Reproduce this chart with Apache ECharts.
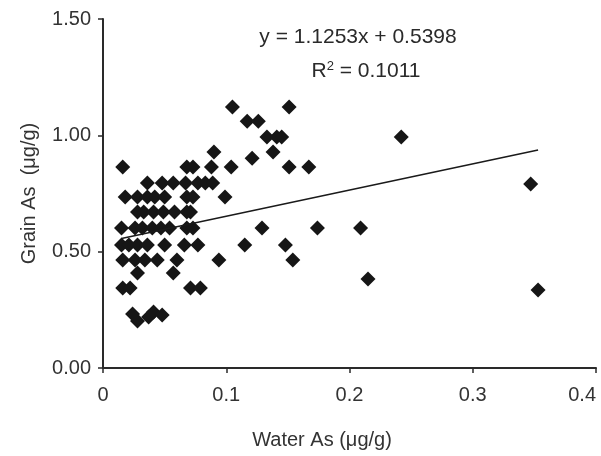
<!DOCTYPE html>
<html>
<head>
<meta charset="utf-8">
<style>
  html, body { margin: 0; padding: 0; background: #fff; }
  #chart { width: 601px; height: 456px; }
</style>
<script src="https://cdn.jsdelivr.net/npm/echarts@6/dist/echarts.min.js"></script>
</head>
<body>
<div id="chart"></div>
<script>
// Water arsenic (x) and grain arsenic (y) per sample, µg/g
const waterAs = [
  0.105, 0.151,
  0.117, 0.126,
  0.133, 0.141, 0.145, 0.242,
  0.090, 0.138,
  0.121,
  0.016, 0.068, 0.073, 0.088, 0.104, 0.151, 0.167,
  0.036, 0.048, 0.057, 0.067, 0.077, 0.083, 0.089, 0.347,
  0.018, 0.028, 0.036, 0.042, 0.050, 0.068, 0.073, 0.099,
  0.028, 0.033, 0.041, 0.049, 0.058, 0.068, 0.071,
  0.015, 0.026, 0.032, 0.040, 0.047, 0.054, 0.068, 0.073, 0.129, 0.174, 0.209,
  0.015, 0.021, 0.028, 0.036, 0.050, 0.066, 0.077, 0.115, 0.148,
  0.016, 0.026, 0.034, 0.044, 0.060, 0.094, 0.154,
  0.028, 0.057,
  0.215,
  0.016, 0.022, 0.071, 0.079, 0.353,
  0.024, 0.028, 0.037, 0.041, 0.048
];
const grainAs = [
  1.122, 1.122,
  1.061, 1.061,
  0.993, 0.993, 0.993, 0.993,
  0.928, 0.928,
  0.902,
  0.864, 0.864, 0.864, 0.864, 0.864, 0.864, 0.864,
  0.795, 0.795, 0.795, 0.795, 0.795, 0.795, 0.795, 0.791,
  0.735, 0.735, 0.735, 0.735, 0.735, 0.735, 0.735, 0.735,
  0.670, 0.670, 0.670, 0.670, 0.670, 0.670, 0.670,
  0.602, 0.602, 0.602, 0.602, 0.602, 0.602, 0.602, 0.602, 0.602, 0.602, 0.602,
  0.529, 0.529, 0.529, 0.529, 0.529, 0.529, 0.529, 0.529, 0.529,
  0.464, 0.464, 0.464, 0.464, 0.464, 0.464, 0.464,
  0.408, 0.408,
  0.382,
  0.344, 0.344, 0.344, 0.344, 0.335,
  0.232, 0.202, 0.219, 0.241, 0.228
];

// Linear trend fitted to the samples
const trendSlope = 1.1253;
const trendIntercept = 0.5398;
const trendR2 = 0.1011;

const xTicks = [0, 0.1, 0.2, 0.3, 0.4];
const yTicks = [0, 0.5, 1.0, 1.5];

const points = waterAs.map((x, i) => [x, grainAs[i]]);
const xMin = Math.min(...waterAs);
const xMax = Math.max(...waterAs);
const trend = [xMin, xMax].map(x => [x, trendSlope * x + trendIntercept]);

const font = 'Liberation Sans, Arial, sans-serif';
const chart = echarts.init(document.getElementById('chart'));
chart.setOption({
  animation: false,
  grid: { left: 103, right: 5, top: 19, bottom: 88, outerBoundsMode: 'none', containLabel: false },
  xAxis: {
    type: 'value',
    min: xTicks[0], max: xTicks[xTicks.length - 1], interval: 0.1,
    splitLine: { show: false },
    axisLine: { lineStyle: { color: '#2a2a2a', width: 2 } },
    axisTick: { length: 5, lineStyle: { color: '#2a2a2a', width: 1.5 } },
    axisLabel: {
      margin: 17, fontSize: 20, color: '#333', fontFamily: font,
      alignMaxLabel: 'right',
      formatter: v => (v === 0 ? '0' : v.toFixed(1))
    }
  },
  yAxis: {
    type: 'value',
    min: yTicks[0], max: yTicks[yTicks.length - 1], interval: 0.5,
    splitLine: { show: false },
    axisLine: { onZero: false, lineStyle: { color: '#2a2a2a', width: 2 } },
    axisTick: { length: 5, lineStyle: { color: '#2a2a2a', width: 1.5 } },
    axisLabel: {
      margin: 12, fontSize: 20, color: '#333', fontFamily: font,
      formatter: v => v.toFixed(2)
    },
    name: 'Grain As  (\u03bcg/g)',
    nameLocation: 'middle',
    nameGap: 64,
    nameTextStyle: { fontSize: 20, color: '#333', fontFamily: font }
  },
  graphic: [
    {
      type: 'text', x: 322, y: 440,
      style: {
        text: 'Water As (\u03bcg/g)', fontSize: 20, fill: '#333',
        fontFamily: font, textAlign: 'center', textVerticalAlign: 'middle'
      }
    },
    {
      type: 'text', x: 358, y: 37,
      style: {
        text: 'y = ' + trendSlope + 'x + ' + trendIntercept, fontSize: 21, fill: '#2a2a2a',
        fontFamily: font, textAlign: 'center', textVerticalAlign: 'middle'
      }
    },
    {
      type: 'text', x: 366, y: 71,
      style: {
        rich: {
          n: { fontSize: 21, fontFamily: font, fill: '#2a2a2a' },
          sup: { fontSize: 13, fontFamily: font, fill: '#2a2a2a', verticalAlign: 'top', padding: [0, 0, 9, 0] }
        },
        text: '{n|R}{sup|2}{n| = ' + trendR2 + '}',
        textAlign: 'center', textVerticalAlign: 'middle'
      }
    }
  ],
  series: [
    {
      type: 'scatter',
      data: points,
      symbol: 'diamond',
      symbolSize: 15,
      itemStyle: { color: '#161616', opacity: 1 },
      z: 3
    },
    {
      type: 'line',
      data: trend,
      symbol: 'none',
      lineStyle: { color: '#1a1a1a', width: 1.5 },
      z: 4
    }
  ]
});
</script>
</body>
</html>
